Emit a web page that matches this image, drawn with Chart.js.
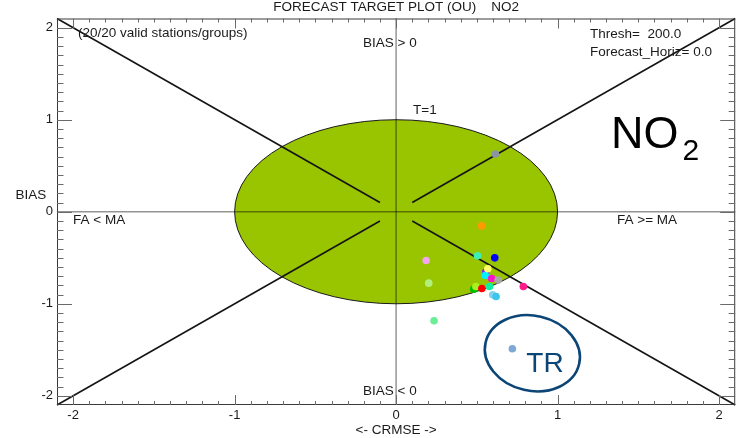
<!DOCTYPE html>
<html>
<head>
<meta charset="utf-8">
<script src="https://cdn.jsdelivr.net/npm/chart.js@4/dist/chart.umd.min.js"></script>
<style>
  html, body { margin: 0; padding: 0; background: #fff; }
  #wrap { width: 739px; height: 438px; }
</style>
</head>
<body>
<div id="wrap"><canvas id="c" width="739" height="438"></canvas></div>
<script>
// Centred RMSE (normalised) per station, x axis
const crmse = [0.186, 0.202, 0.504, 0.611, 0.555, 0.552, 0.568, 0.592, 0.632, 0.788,
               0.481, 0.494, 0.531, 0.578, 0.598, 0.619, 0.235, 0.529, 0.615, 0.720];
// Normalised bias per station, y axis
const bias  = [-0.530, -0.776, -0.479, -0.501, -0.656, -0.693, -0.620, -0.726, -0.743, -0.813,
               -0.841, -0.813, -0.834, -0.813, -0.903, -0.921, -1.185, -0.154, 0.628, -1.489];
const stationColors = ['#f3a6ec', '#b2f07e', '#3cf0b4', '#0000ff', '#8a2be2', '#00f4ff', '#ffff66', '#ff14c8', '#a8a8a8', '#ff1a8c',
                       '#00c000', '#a8f020', '#ff0000', '#10f0a0', '#86d2ea', '#3cc6ec', '#6aee96', '#ff9a00', '#8a94a6', '#7ea8d6'];
// Index of the highlighted station and its label
const highlightIndex = 19;
const highlightLabel = 'TR';

const tickValues = [-2, -1, 0, 1, 2];
const axisMin = -2.1, axisMax = 2.1;
const targetRadius = 1;

const FONT = "'Liberation Sans', Arial, Helvetica, sans-serif";
Chart.defaults.font.family = FONT;

const decor = {
  id: 'targetDecor',
  beforeDatasetsDraw(chart) {
    const { ctx, chartArea: a, scales: { x, y } } = chart;
    const px = v => x.getPixelForValue(v);
    const py = v => y.getPixelForValue(v);
    const line = (x1, y1, x2, y2) => { ctx.beginPath(); ctx.moveTo(x1, y1); ctx.lineTo(x2, y2); ctx.stroke(); };
    ctx.save();

    // target area (T = 1)
    ctx.beginPath();
    ctx.ellipse(px(0), py(0), px(targetRadius) - px(0), py(0) - py(targetRadius), 0, 0, Math.PI * 2);
    ctx.fillStyle = '#99c400';
    ctx.fill();
    ctx.lineWidth = 1;
    ctx.strokeStyle = '#1a1a1a';
    ctx.stroke();

    // zero lines
    ctx.strokeStyle = 'rgba(0,0,0,0.42)';
    ctx.lineWidth = 1.5;
    line(px(0), a.top, px(0), a.bottom);
    line(a.left, py(0), a.right, py(0));

    // quadrant diagonals
    ctx.strokeStyle = '#141414';
    ctx.lineWidth = 1.6;
    const gap = 0.1;
    for (const sx of [-1, 1]) for (const sy of [-1, 1]) {
      line(px(sx * gap), py(sy * gap), px(sx * axisMax), py(sy * axisMax));
    }

    // frame
    ctx.strokeStyle = '#3a3a3a';
    ctx.lineWidth = 1;
    ctx.strokeRect(a.left + 0.5, a.top + 0.5, a.right - a.left - 1, a.bottom - a.top - 1);

    // inward tick marks on all four sides
    ctx.strokeStyle = '#6a6a6a';
    ctx.lineWidth = 1;
    for (let i = -20; i <= 20; i++) {
      const v = i / 10;
      const major = i % 10 === 0;
      const xl = major ? 10 : 4;
      const yl = major ? 15 : 6.5;
      const xp = Math.round(px(v)) + 0.5;
      const yp = Math.round(py(v)) + 0.5;
      line(xp, a.bottom, xp, a.bottom - xl);
      line(xp, a.top, xp, a.top + xl);
      line(a.left, yp, a.left + yl, yp);
      line(a.right, yp, a.right - yl, yp);
    }

    // text labels
    ctx.fillStyle = '#1a1a1a';
    ctx.textBaseline = 'middle';
    ctx.font = '13.5px ' + FONT;
    ctx.textAlign = 'center';
    ctx.fillText('FORECAST TARGET PLOT (OU)    NO2', px(0), 7.5);
    ctx.textAlign = 'left';
    ctx.fillText('(20/20 valid stations/groups)', 78, 33.5);
    ctx.fillText('Thresh=  200.0', 590, 34.5);
    ctx.fillText('Forecast_Horiz= 0.0', 590, 52);
    ctx.fillText('BIAS > 0', 363, 43);
    ctx.fillText('BIAS < 0', 363, 391.5);
    ctx.fillText('T=1', 413, 110);
    ctx.fillText('FA < MA', 73, 220);
    ctx.fillText('FA >= MA', 617, 220.5);
    ctx.fillText('BIAS', 15.5, 195);

    // pollutant name
    ctx.textBaseline = 'alphabetic';
    ctx.fillStyle = '#000';
    ctx.font = '45px ' + FONT;
    ctx.fillText('NO', 611, 147.5);
    ctx.font = '30px ' + FONT;
    ctx.fillText('2', 682.5, 160);
    ctx.restore();
  },
  afterDatasetsDraw(chart) {
    const { ctx, scales: { x, y } } = chart;
    const cx = x.getPixelForValue(crmse[highlightIndex]) + 20;
    const cy = y.getPixelForValue(bias[highlightIndex]) + 4.5;
    ctx.save();
    ctx.beginPath();
    ctx.ellipse(cx, cy, 48, 37.5, 13 * Math.PI / 180, 0, Math.PI * 2);
    ctx.strokeStyle = '#0b4677';
    ctx.lineWidth = 2.6;
    ctx.stroke();
    ctx.fillStyle = '#0b4677';
    ctx.font = '28px ' + FONT;
    ctx.textBaseline = 'alphabetic';
    ctx.textAlign = 'left';
    ctx.fillText(highlightLabel, cx - 6, cy + 19);
    ctx.restore();
  }
};

const points = crmse.map((v, i) => ({ x: v, y: bias[i] }));

new Chart(document.getElementById('c'), {
  type: 'scatter',
  data: {
    datasets: [{
      data: points,
      pointRadius: 3.8,
      pointHoverRadius: 3.8,
      pointBorderWidth: 0,
      pointBackgroundColor: stationColors,
      pointBorderColor: stationColors
    }]
  },
  options: {
    responsive: false,
    animation: false,
    devicePixelRatio: 1,
    events: [],
    layout: { padding: { top: 18.5, right: 2, bottom: 0, left: 0 } },
    plugins: { legend: { display: false }, tooltip: { enabled: false }, title: { display: false } },
    scales: {
      x: {
        type: 'linear', min: axisMin, max: axisMax,
        grid: { display: false, drawTicks: false },
        border: { display: false },
        afterBuildTicks: s => { s.ticks = tickValues.map(v => ({ value: v })); },
        afterFit: s => { s.height = 33; },
        ticks: { padding: 3, color: '#1a1a1a', font: { size: 13 }, autoSkip: false, maxRotation: 0, callback: v => String(v) },
        title: { display: true, text: '<- CRMSE ->', color: '#1a1a1a', font: { size: 13.5 }, padding: { top: 0, bottom: 0 } }
      },
      y: {
        type: 'linear', min: axisMin, max: axisMax,
        grid: { display: false, drawTicks: false },
        border: { display: false },
        afterBuildTicks: s => { s.ticks = tickValues.map(v => ({ value: v })); },
        afterFit: s => { s.width = 57; },
        ticks: { padding: 4, color: '#1a1a1a', font: { size: 13 }, autoSkip: false, callback: v => String(v) }
      }
    }
  },
  plugins: [decor]
});
</script>
</body>
</html>
